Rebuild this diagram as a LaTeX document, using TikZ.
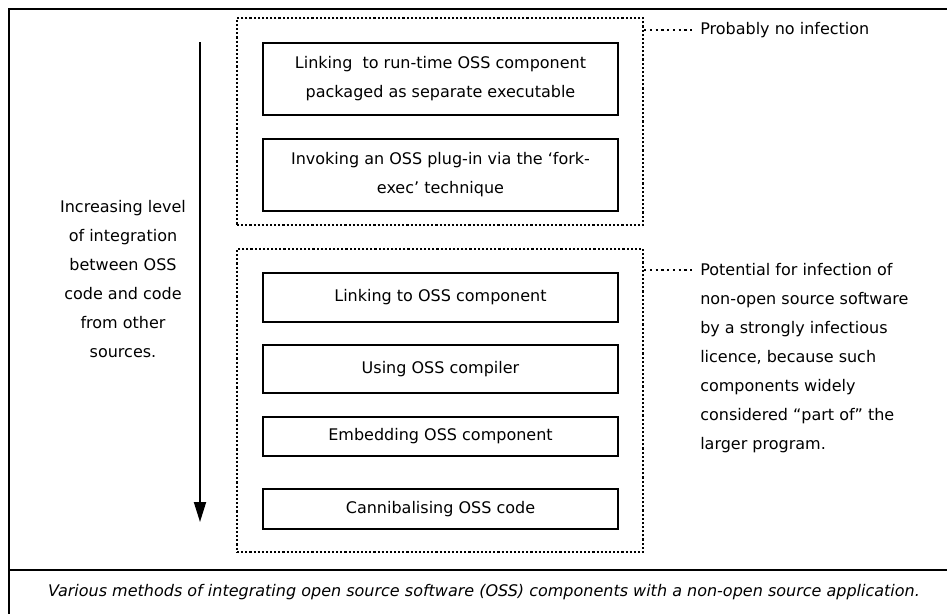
\documentclass[tikz,border=0pt]{standalone}
\usepackage{fontspec}
\setmainfont{DejaVu Sans}
\usetikzlibrary{arrows.meta}
\begin{document}
\begin{tikzpicture}[x=0.75pt,y=-0.75pt,
  txt/.style={font=\fontsize{12}{21.75}\selectfont, inner sep=0pt},
  method/.style={draw, line width=1.5pt, txt, align=center, minimum width=266.25pt},
  group/.style={draw, line width=1.7pt, dash pattern=on 1.6pt off 1.5pt, minimum width=304.5pt, inner sep=0pt},
  conn/.style={line width=1.7pt, dash pattern=on 1.7pt off 2.6pt},
  frame/.style={line width=1.4pt}]
\useasboundingbox (0,0) rectangle (947,614);
% outer frame
\coordinate (ftl) at (9,9);
\coordinate (ftr) at (947,9);
\coordinate (fbl) at (9,614);
\coordinate (sepl) at (9,570);
\coordinate (sepr) at (947,570);
\draw[frame] (fbl) -- (ftl) -- (ftr);
\draw[frame] (sepl) -- (sepr);
% groups
\node[group, minimum height=155.25pt] (ug) at (440,121.5) {};
\node[group, minimum height=227.25pt] (lg) at (440,400.5) {};
% method boxes
\node[method, minimum height=54pt] (b1) at (440.5,79) {Linking\ \ to run-time OSS component\\packaged as separate executable};
\node[method, minimum height=54pt] (b2) at (440.5,175) {Invoking an OSS plug-in via the ‘fork-\\exec’ technique};
\node[method, minimum height=36.75pt] (b3) at (440.5,297.5) {Linking to OSS component};
\node[method, minimum height=36pt] (b4) at (440.5,369) {Using OSS compiler};
\node[method, minimum height=29.25pt] (b5) at (440.5,436.5) {Embedding OSS component};
\node[method, minimum height=30pt] (b6) at (440.5,509) {Cannibalising OSS code};
% arrow
\coordinate (as) at (200,42);
\coordinate (ae) at (200,522);
\draw[line width=1.4pt, -{Triangle[length=15pt,width=9pt]}] (as) -- (ae);
\node[txt, align=center] (lt) at (123,279.5) {Increasing level\\of integration\\between OSS\\code and code\\from other\\sources.};
% labels
\node[txt, anchor=west, inner xsep=6pt] (l1) at (692,30) {Probably no infection};
\draw[conn] (l1.west -| ug.east) -- (l1.west);
\node[txt, anchor=north west, align=left, inner xsep=6pt] (l2) at (692,263) {Potential for infection of\\non-open source software\\by a strongly infectious\\licence, because such\\components widely\\considered “part of” the\\larger program.};
\coordinate (l2a) at (698,270);
\draw[conn] (l2a -| lg.east) -- (l2a -| l2.west);
% caption
\node[txt, font=\fontsize{12}{14}\itshape] (cap) at (484,592) {Various methods of integrating open source software (OSS) components with a non-open source application.};
\end{tikzpicture}
\end{document}
